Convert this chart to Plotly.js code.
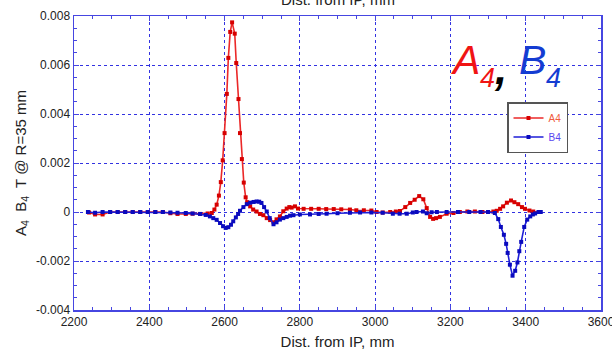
<!DOCTYPE html>
<html>
<head>
<meta charset="utf-8">
<script src="https://cdn.plot.ly/plotly-3.0.1.min.js"></script>
<style>html,body{margin:0;padding:0;background:#fff;}#chart{width:612px;height:350px;}</style>
</head>
<body>
<div id="chart"></div>
<script>
// A4 series (distance mm, value T @ R=35 mm)
var a4X = [2240,2256,2276,2296,2316,2336,2356,2376,2396,2416,2436,2456,2475,2497,2515,2535,2555,2566,2573,2579,2585,2590,2595,2600,2606,2610,2615,2620,2627,2631,2637,2641,2646,2651,2656,2660,2668,2676,2685,2694,2703,2712,2721,2730,2738,2747,2756,2765,2772,2778,2787,2795,2810,2830,2850,2870,2890,2910,2933,2950,2970,2990,3004,3020,3040,3055,3066,3080,3093,3105,3117,3128,3137,3146,3154,3162,3172,3190,3208,3225,3245,3265,3285,3300,3314,3323,3332,3340,3350,3361,3370,3380,3390,3398,3410,3420,3436];
var a4Y = [-0.00002,-0.0001,-0.0001,0,0,0,0,0,0,0,0,-0.00005,-0.00008,-0.00008,-0.00007,-0.00008,-0.00006,-0.00004,0.0001,0.0003,0.00067,0.00122,0.00211,0.00322,0.00482,0.00629,0.00735,0.00774,0.00728,0.00608,0.00461,0.00322,0.00216,0.0012,0.0006,0.0004,0.00023,0.0001,0.00002,-0.00008,-0.00013,-0.00025,-0.00033,-0.00042,-0.0003,-0.00018,0.00003,0.00014,0.0002,0.00018,0.00023,0.00014,0.00013,0.00013,0.00013,0.00012,0.00012,0.00011,0.0001,0.00007,0.00007,0.00006,0,-0.00002,0,0.00002,0.00004,0.0002,0.00037,0.0005,0.00065,0.00052,0.00016,-0.0002,-0.00028,-0.00025,-0.0002,-0.00007,-0.00004,0,0.00002,0.00002,0,0,0.00002,0.00005,0.00013,0.00023,0.00038,0.00047,0.0004,0.00032,0.0002,0.00013,0.00006,0.00002,0];
// B4 series
var b4X = [2237,2256,2276,2296,2316,2336,2356,2376,2396,2416,2436,2456,2475,2497,2515,2535,2550,2561,2570,2579,2588,2596,2603,2610,2617,2623,2630,2636,2641,2650,2659,2668,2677,2685,2692,2698,2705,2712,2720,2730,2738,2747,2756,2765,2774,2783,2800,2827,2850,2871,2900,2933,2960,2990,3020,3047,3065,3084,3100,3110,3127,3137,3150,3164,3190,3220,3250,3280,3300,3318,3327,3334,3342,3348,3352,3358,3365,3372,3378,3383,3388,3396,3404,3412,3419,3425,3434,3440];
var b4Y = [0,-0.00003,0,0,0,0,0,0,0,0,0,-0.00002,-0.00003,-0.00004,-0.00006,-0.00008,-0.00012,-0.00018,-0.00025,-0.00032,-0.00045,-0.00058,-0.00065,-0.00062,-0.00052,-0.00038,-0.00022,-0.00008,0.00005,0.0002,0.00032,0.00038,0.00041,0.00043,0.00042,0.00037,0.0002,0.00002,-0.00025,-0.0005,-0.00042,-0.00031,-0.00025,-0.0002,-0.00015,-0.00013,-0.0001,-0.0001,-0.00008,-0.00007,-0.00005,-0.00003,-0.00002,-0.00002,-0.00003,-0.00007,-0.00007,-0.00007,-0.00002,0,0.00002,-0.00005,-0.00001,0,0,0,0,0,0,-0.00004,-0.00029,-0.00061,-0.00093,-0.0013,-0.00167,-0.00215,-0.0026,-0.0024,-0.00206,-0.0016,-0.00122,-0.00061,-0.00031,-0.00018,-0.0001,-0.00006,0,0];
// axis ticks
var xTickVals = [2200,2400,2600,2800,3000,3200,3400,3600];
var yTickVals = [-0.004,-0.002,0,0.002,0.004,0.006,0.008];
var yTickText = ['-0.004','-0.002','0','0.002','0.004','0.006','0.008'];
var seriesNames = ['A4','B4'];

var axisBlue = 'rgb(70,70,225)';
var gridBlue = 'rgb(50,50,225)';
var redLine = 'rgb(235,40,40)', redMark = 'rgb(215,0,0)';
var blueLine = 'rgb(30,30,215)', blueMark = 'rgb(10,10,190)';

var traces = [
  {x: a4X, y: a4Y, type: 'scatter', mode: 'lines+markers',
   name: '<span style="color:rgb(240,90,60)">' + seriesNames[0] + '</span>',
   line: {color: redLine, width: 1.6}, marker: {color: redMark, size: 4, symbol: 'square'}},
  {x: b4X, y: b4Y, type: 'scatter', mode: 'lines+markers',
   name: '<span style="color:rgb(90,70,240)">' + seriesNames[1] + '</span>',
   line: {color: blueLine, width: 1.6}, marker: {color: blueMark, size: 4, symbol: 'square'}}
];

function px2x(px){ return (px - 74) / 527; }
function py2y(py){ return (310 - py) / 294; }

var layout = {
  width: 612, height: 350,
  margin: {l: 74, r: 11, t: 16, b: 40, pad: 0},
  paper_bgcolor: '#fff', plot_bgcolor: '#fff',
  font: {family: 'Liberation Sans, Arial, sans-serif', size: 12, color: '#222'},
  showlegend: true,
  legend: {x: px2x(507), y: py2y(102), xanchor: 'left', yanchor: 'top',
           bgcolor: '#fff', bordercolor: '#555', borderwidth: 1.5,
           font: {size: 10}, itemwidth: 30, tracegroupgap: 0},
  xaxis: {
    range: [2200, 3600], tickvals: xTickVals, ticks: 'inside', ticklen: 5, tickcolor: axisBlue,
    showline: true, linecolor: axisBlue, linewidth: 1.5, mirror: 'ticks',
    showgrid: true, gridcolor: gridBlue, griddash: 'dot', gridwidth: 1, zeroline: false,
    minor: {dtick: 50, ticks: 'inside', ticklen: 3, tickcolor: axisBlue, showgrid: false},
    tickfont: {size: 12, color: '#222'}, ticklabeloverflow: 'allow',
    title: {text: 'Dist. from IP, mm', font: {size: 15, color: '#222'}, standoff: 9}
  },
  yaxis: {
    range: [-0.004, 0.008], tickvals: yTickVals, ticktext: yTickText, ticks: 'inside', ticklen: 5, tickcolor: axisBlue,
    showline: true, linecolor: axisBlue, linewidth: 1.5, mirror: 'ticks',
    showgrid: true, gridcolor: gridBlue, griddash: 'dot', gridwidth: 1, zeroline: false,
    minor: {dtick: 0.0005, ticks: 'inside', ticklen: 3, tickcolor: axisBlue, showgrid: false},
    tickfont: {size: 12, color: '#222'},
    title: {text: 'A<sub>4</sub>  B<sub>4</sub>  T @ R=35 mm', font: {size: 15, color: '#222'}, standoff: 6}
  },
  annotations: [
    {xref: 'paper', yref: 'paper', x: 0.5, y: 1, xanchor: 'center', yanchor: 'bottom', yshift: 6,
     text: 'Dist. from IP, mm', showarrow: false, font: {size: 15, color: '#222'}},
    {xref: 'paper', yref: 'paper', x: px2x(464.5), y: py2y(60), xanchor: 'center', yanchor: 'middle',
     text: '<i>A</i>', showarrow: false, font: {size: 41, color: 'rgb(240,20,20)'}},
    {xref: 'paper', yref: 'paper', x: px2x(487.5), y: py2y(78), xanchor: 'center', yanchor: 'middle',
     text: '<i>4</i>', showarrow: false, font: {size: 27, color: 'rgb(240,20,20)'}},
    {xref: 'paper', yref: 'paper', x: px2x(500), y: py2y(68), xanchor: 'center', yanchor: 'middle',
     text: '<b><i>,</i></b>', showarrow: false, font: {size: 44, color: '#000'}},
    {xref: 'paper', yref: 'paper', x: px2x(532), y: py2y(60), xanchor: 'center', yanchor: 'middle',
     text: '<i>B</i>', showarrow: false, font: {size: 41, color: 'rgb(20,60,210)'}},
    {xref: 'paper', yref: 'paper', x: px2x(553.5), y: py2y(78), xanchor: 'center', yanchor: 'middle',
     text: '<i>4</i>', showarrow: false, font: {size: 27, color: 'rgb(20,60,210)'}}
  ]
};

Plotly.newPlot('chart', traces, layout, {displayModeBar: false, staticPlot: true});
</script>
</body>
</html>
